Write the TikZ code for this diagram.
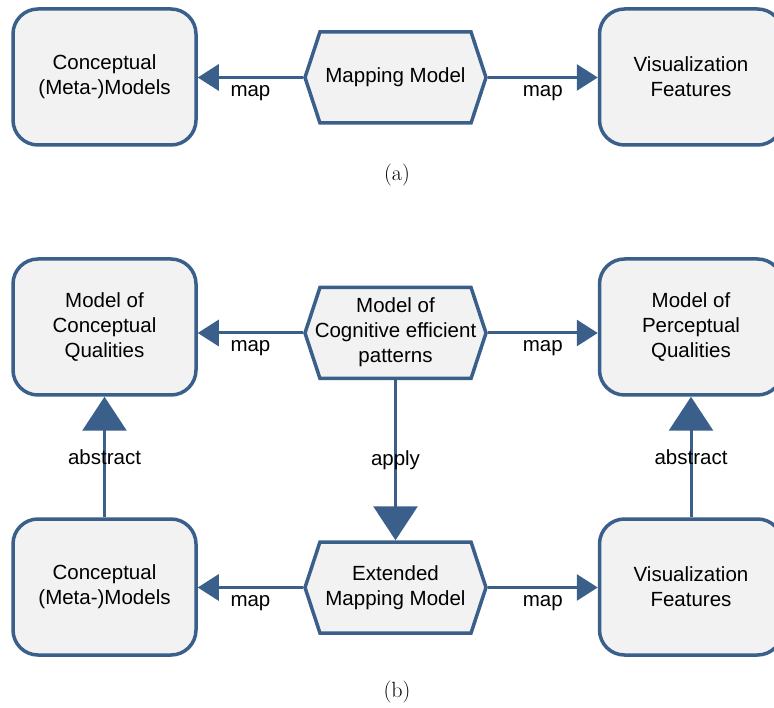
\documentclass[tikz,border=0pt]{standalone}
\usepackage{fontspec}
\setmainfont{Liberation Sans}
\newfontfamily\capfont{Latin Modern Roman}
\usetikzlibrary{arrows.meta,shapes.symbols}

\definecolor{edgeblue}{RGB}{58,95,139}
\definecolor{boxgray}{RGB}{242,242,242}

\newcommand{\hexlabel}[1]{\makebox[130pt]{\begin{tabular}{@{}c@{}}#1\end{tabular}}}

\tikzset{
  modelbox/.style={draw=edgeblue, fill=boxgray, line width=3.5pt, rounded corners=25pt,
    minimum width=183pt, minimum height=136pt, align=center, inner sep=0pt},
  mapbox/.style={signal, signal to=west and east, signal pointer angle=143.6,
    draw=edgeblue, fill=boxgray, line width=3.5pt, minimum width=181pt, minimum height=91pt, inner sep=0pt},
  maparrow/.style={draw=edgeblue, line width=3pt, -{Triangle[length=21pt,width=26pt]}},
  bigarrow/.style={draw=edgeblue, line width=3pt, -{Triangle[length=34pt,width=44pt]}},
  arrowlabel/.style={inner sep=0pt},
  caplabel/.style={font=\capfont\fontsize{22}{26}\selectfont}
}

\begin{document}
\begin{tikzpicture}[x=1pt,y=-1pt,font=\fontsize{20.5}{25}\selectfont]
\useasboundingbox (0,0) rectangle (774,708);
\clip (0,0) rectangle (774,708);

%(a)
\node[modelbox] (cma) at (104.5,77) {Conceptual\\(Meta-)Models};
\node[mapbox] (mma) at (395.5,77.5) {\hexlabel{Mapping Model}};
\node[modelbox] (vfa) at (691,77) {Visualization\\Features};
\draw[maparrow] (mma.west) -- node[arrowlabel, below=6pt] {map} (mma.west -| cma.east);
\draw[maparrow] (mma.east) -- node[arrowlabel, below=6pt] {map} (mma.east -| vfa.west);
\node[caplabel] (capa) at (397,175) {(a)};

%(b) top row
\node[modelbox] (cq) at (104.5,327) {Model of\\Conceptual\\Qualities};
\node[mapbox] (cep) at (395.5,333) {\hexlabel{Model of\\Cognitive efficient\\patterns}};
\node[modelbox] (pq) at (691,327) {Model of\\Perceptual\\Qualities};
\draw[maparrow] (cep.west) -- node[arrowlabel, below=6pt] {map} (cep.west -| cq.east);
\draw[maparrow] (cep.east) -- node[arrowlabel, below=6pt] {map} (cep.east -| pq.west);

%(b) bottom row
\node[modelbox] (cmb) at (104.5,587) {Conceptual\\(Meta-)Models};
\node[mapbox] (emm) at (395.5,587.5) {\hexlabel{Extended\\Mapping Model}};
\node[modelbox] (vfb) at (691,587) {Visualization\\Features};
\draw[maparrow] (emm.west) -- node[arrowlabel, below=6pt] {map} (emm.west -| cmb.east);
\draw[maparrow] (emm.east) -- node[arrowlabel, below=6pt] {map} (emm.east -| vfb.west);

%vertical arrows
\draw[bigarrow] (cmb.north) -- node[arrowlabel] {abstract} (cq.south);
\draw[bigarrow] (vfb.north) -- node[arrowlabel] {abstract} (pq.south);
\draw[bigarrow] (cep.south) -- node[arrowlabel] {apply} (emm.north);
\node[caplabel] (capb) at (397,692) {(b)};

\end{tikzpicture}
\end{document}
